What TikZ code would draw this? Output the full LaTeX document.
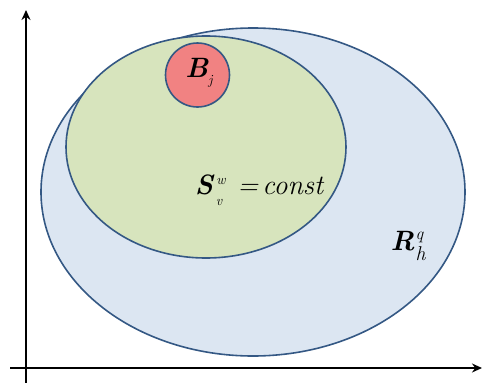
\documentclass[tikz,border=0pt]{standalone}
\usetikzlibrary{arrows.meta}
\definecolor{edge}{RGB}{52,88,132}
\definecolor{bluefill}{RGB}{220,230,242}
\definecolor{greenfill}{RGB}{215,228,189}
\definecolor{redfill}{RGB}{241,130,130}
\tikzset{
  region/.style={draw=edge, line width=1.6pt},
  axis/.style={draw=black, line width=1.5pt, -{Stealth[length=10pt,width=9pt]}},
  lbl/.style={font=\fontsize{28}{32}\selectfont\bfseries\itshape, inner sep=0pt}
}
\newcommand{\smallit}[1]{{\fontsize{14}{16}\selectfont\mdseries\itshape #1}}
\begin{document}
\begin{tikzpicture}[x=1pt,y=-1pt]
\useasboundingbox (0,0) rectangle (483,383);
\coordinate (ybot) at (26,383);
\coordinate (ytop) at (26,10);
\coordinate (xleft) at (10,368);
\coordinate (xright) at (482,368);
\draw[axis] (ybot) -- (ytop);
\draw[axis] (xleft) -- (xright);
\path[region, fill=bluefill] (253,192) ellipse [x radius=212, y radius=164];
\path[region, fill=greenfill] (206,147) ellipse [x radius=140, y radius=111];
\path[region, fill=redfill] (197.5,75) circle [radius=32];
\node[lbl] (B) at (199,73) {B\raisebox{-7pt}{\smallit{j}}};
\node[lbl] (S) at (259,190) {S\hspace{3pt}\raisebox{-11pt}{\smallit{v}}\hspace{-6pt}\raisebox{10pt}{\smallit{w}}\hspace{12pt}{\mdseries =\hspace{4pt}const}};
\node[lbl] (R) at (407,246) {R\hspace{1pt}\raisebox{-10pt}{\fontsize{20}{22}\selectfont\mdseries\itshape h}\hspace{-10pt}\raisebox{11pt}{\fontsize{17}{18}\selectfont\mdseries\itshape q}};
\end{tikzpicture}
\end{document}
